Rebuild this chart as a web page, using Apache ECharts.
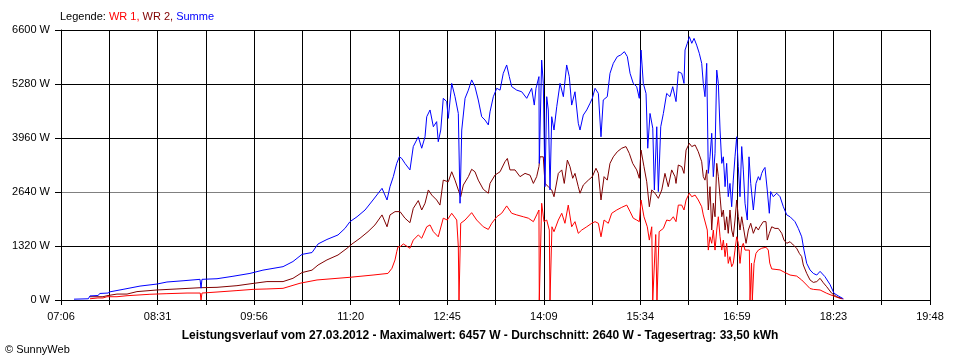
<!DOCTYPE html>
<html>
<head>
<meta charset="utf-8">
<script src="https://cdn.jsdelivr.net/npm/echarts@6/dist/echarts.min.js"></script>
<style>
  html, body { margin: 0; padding: 0; background: #fff; }
  #chart { width: 960px; height: 360px; }
</style>
</head>
<body>
<div id="chart"></div>
<script>
// Time in minutes since midnight, power in W
const startMinute = 426;   // 07:06
const endMinute = 1188;    // 19:48
const tickLabels = ["07:06","08:31","09:56","11:20","12:45","14:09","15:34","16:59","18:23","19:48"];
const yTicks = [0, 1320, 2640, 3960, 5280, 6600];

const summe = [
[437.4,20],[450,30],[451.4,100],[458.4,110],[460.2,160],[467.2,170],[469.0,200],[480.4,260],[495.3,340],
[510.2,390],[518.9,440],[533.0,470],[547.9,505],[548.8,290],[549.6,505],[562.8,520],[576.8,580],[591.7,650],
[603.1,730],[620.7,815],[629.4,940],[637.3,1115],[646.1,1160],[651.4,1370],[659.2,1480],[668.9,1590],
[675.0,1750],[679.4,1915],[685.6,2035],[692.6,2200],[699.6,2445],[707.5,2730],[709.2,2770],[711.9,2445],
[714.5,2770],[717.4,3015],[718.9,3180],[720.4,3340],[722.7,3500],[724.8,3460],[727.6,3340],[732.0,3180],
[734.9,3750],[739.3,3990],[742.3,3710],[745.2,3990],[746.7,4480],[749.6,4645],[752.5,4235],[755.4,4360],
[756.8,3870],[759.0,4155],[761.2,4930],[764.2,4850],[765.6,4440],[768.6,5295],[771.5,4970],[774.4,4560],
[775.9,2365],[777.4,4155],[780.3,4930],[783.2,5130],[786.1,5380],[789.0,5215],[791.9,4890],[794.9,4480],
[797.8,4400],[800.7,4280],[802.2,4600],[805.1,4970],[808.1,5175],[811.0,5130],[813.8,5540],[816.8,5745],
[819.1,5460],[821.2,5215],[825.6,5130],[830.0,5090],[834.4,4930],[838.7,5175],[841.0,4765],[842.5,5175],
[845.1,5460],[845.4,3340],[846.0,3340],[847.5,5865],[848.9,5295],[850.4,2770],[851.9,4970],[853.3,4645],
[854.8,2690],[856.3,4480],[858.3,4155],[860.7,4725],[863.6,5295],[866.5,4970],[869.4,5745],[871.7,5460],
[873.8,4765],[876.7,5090],[879.6,4320],[881.1,4155],[884.0,4520],[887.0,4645],[889.9,4810],[891.9,4930],
[894.3,5175],[897.2,5050],[899.5,3990],[901.5,4890],[905.0,4970],[907.4,5540],[910.3,5785],[913.8,5950],
[916.8,5990],[920.0,6070],[922.6,5950],[925.0,5540],[927.8,5295],[930.8,5215],[933.1,4930],[934.6,6110],
[936.6,5295],[939.0,5050],[940.5,3710],[942.5,4560],[944.9,4200],[946.3,2690],[948.4,4235],[949.8,2650],
[951.9,4235],[954.2,4560],[957.1,5050],[960.0,4970],[962.4,5215],[965.3,4850],[967.3,5580],[970.3,5540],
[972.3,5295],[973.2,6110],[975.2,6275],[977.0,6435],[979.1,6275],[981.1,6395],[983.4,6230],[985.7,6030],
[987.8,5785],[989.2,5295],[990.7,4970],[992.2,5785],[993.6,3095],[995.1,3500],[996.6,4075],[998.0,3015],
[999.5,3585],[1001.0,5620],[1002.4,5295],[1003.9,4155],[1005.4,3340],[1006.8,3500],[1008.3,2770],
[1009.7,3340],[1011.1,2525],[1012.6,2850],[1014.1,2280],[1015.5,2930],[1017.0,3500],[1018.5,3990],
[1019.9,3260],[1021.4,2525],[1022.9,3750],[1024.3,3180],[1025.8,2365],[1027.8,1955],[1029.3,3500],
[1030.8,2850],[1033.1,2200],[1035.4,2850],[1037.5,3015],[1038.9,2930],[1040.4,3095],[1041.8,3180],
[1043.3,3240],[1044.2,3260],[1045.3,2690],[1047.1,2120],[1048.3,2650],[1050.6,2525],[1053.6,2610],
[1056.5,2525],[1059.4,2280],[1062.4,2080],[1065.3,2035],[1069.6,1915],[1072.5,1750],[1075.5,1545],
[1077.5,1220],[1079.9,895],[1082.8,735],[1085.7,650],[1088.7,610],[1091.6,700],[1095.9,570],[1100.3,380],
[1103.8,165],[1107.6,100],[1112.0,30]
];

const wr2 = [
[451.4,80],[462.8,80],[466.3,105],[475.1,145],[483.9,145],[492.6,205],[510.2,245],[527.7,270],[547.9,300],
[562.8,310],[580.3,350],[594.4,405],[606.6,450],[620.7,450],[629.4,530],[637.3,670],[646.1,730],[651.4,855],
[659.2,980],[668.9,1100],[676.8,1265],[681.2,1370],[688.2,1510],[695.2,1670],[701.3,1835],[707.5,2080],
[711.9,1790],[714.5,2080],[718.9,2160],[723.3,2160],[727.6,2000],[732.0,1890],[734.9,2240],[739.3,2430],
[742.3,2200],[745.2,2365],[748.1,2690],[751.1,2565],[755.4,2445],[758.3,2320],[761.2,2930],[765.6,2890],
[768.6,3135],[771.5,2930],[774.4,2690],[776.5,2525],[778.8,2810],[783.2,3015],[786.1,3195],[789.0,3135],
[791.9,2930],[796.3,2705],[800.7,2610],[802.2,2850],[806.6,3055],[811.0,3135],[815.3,3380],[817.4,3460],
[819.7,3180],[824.1,3180],[828.5,3015],[832.9,3095],[837.3,3050],[840.2,2850],[843.1,3015],[845.1,3260],
[846.0,3500],[848.9,3500],[850.4,2850],[853.3,2770],[856.3,2690],[858.3,2525],[862.1,3095],[865.1,3180],
[867.3,2850],[870.0,3420],[872.3,3260],[874.7,2975],[876.7,3095],[879.6,2770],[881.1,2610],[884.0,2810],
[888.4,2930],[891.9,3015],[895.1,3220],[897.2,3095],[899.5,2445],[902.2,3015],[905.0,2930],[907.4,3340],
[910.3,3500],[913.8,3625],[917.7,3710],[921.4,3750],[924.3,3585],[927.3,3340],[930.8,3180],[933.1,2975],
[934.6,3665],[937.2,3260],[939.6,2890],[941.9,2280],[944.0,2690],[946.9,2610],[949.8,2485],[952.8,2690],
[955.6,3095],[958.5,2770],[961.5,3180],[964.4,3015],[965.3,2850],[967.3,3300],[970.3,3260],[972.3,3095],
[974.1,3665],[977.0,3830],[979.1,3750],[982.0,3790],[984.8,3625],[987.8,3380],[989.2,3015],[990.7,2930],
[992.2,3180],[993.6,2200],[995.1,2770],[996.6,1710],[998.0,2365],[999.5,2035],[1001.0,3340],[1002.4,3015],
[1003.9,2525],[1005.4,2035],[1006.8,2200],[1008.3,1710],[1009.7,2035],[1011.1,1630],[1012.6,2200],
[1014.1,1710],[1015.5,1545],[1017.0,1955],[1018.5,2445],[1019.9,2035],[1021.4,1710],[1022.9,2035],
[1024.3,1790],[1026.7,1385],[1028.7,1710],[1030.8,1875],[1033.1,1630],[1035.4,1790],[1037.5,1710],
[1038.9,1790],[1040.4,1835],[1041.8,1915],[1043.3,1940],[1044.2,1915],[1045.3,1465],[1047.1,1630],
[1049.2,1790],[1052.1,1750],[1055.0,1750],[1058.0,1630],[1060.0,1465],[1062.4,1385],[1065.3,1425],
[1068.1,1345],[1071.1,1265],[1073.4,1140],[1075.5,1060],[1076.9,855],[1079.9,650],[1082.8,490],
[1085.7,430],[1088.7,450],[1090.1,480],[1091.6,530],[1094.5,420],[1097.4,325],[1101.8,165],[1106.2,80],
[1110.6,40]
];

const wr1 = [
[451.4,30],[458.4,50],[462.8,50],[466.3,80],[475.1,80],[483.9,105],[504.0,140],[518.9,155],[536.5,170],
[548.1,170],[548.8,0],[549.6,170],[562.8,195],[580.3,230],[594.4,260],[606.6,270],[620.7,285],[635.6,410],
[650.5,490],[679.4,555],[699.6,610],[712.7,650],[716.2,775],[718.9,980],[720.4,1180],[721.5,1300],
[723.3,1300],[726.2,1370],[732.0,1265],[734.9,1465],[739.3,1590],[742.3,1510],[746.7,1790],[749.6,1835],
[752.5,1670],[756.8,1545],[761.2,2000],[764.7,1955],[768.6,2120],[773.0,1955],[774.4,1300],[775.0,0],
[775.6,0],[776.5,1875],[780.3,1955],[786.1,2135],[790.5,1955],[796.3,1790],[800.7,1725],[803.7,1875],
[808.1,2035],[812.4,2120],[816.8,2300],[821.2,2120],[825.6,2080],[831.4,2035],[835.8,2000],[840.2,1915],
[843.1,2080],[845.1,2200],[845.4,0],[846.6,0],[847.5,2365],[849.5,1915],[851.9,1955],[854.2,1710],
[854.8,0],[855.4,0],[856.5,1790],[858.3,1670],[862.1,1955],[865.1,2120],[867.9,1875],[870.8,2320],
[873.8,1790],[876.7,1915],[879.6,1630],[882.6,1710],[887.0,1790],[891.4,1875],[894.3,1915],[897.2,1875],
[899.5,1545],[902.2,1955],[905.9,1875],[908.9,2120],[913.3,2200],[917.7,2265],[922.1,2320],[925.0,2160],
[927.8,2000],[930.8,1955],[933.1,1915],[934.6,2445],[937.2,2035],[940.1,1790],[941.9,1465],[944.0,1790],
[944.9,0],[945.9,0],[947.5,1600],[948.6,0],[949.6,0],[950.5,1670],[951.3,1670],[954.2,1750],[957.1,1955],
[960.0,1935],[962.9,2035],[965.3,1915],[967.3,2320],[970.3,2320],[972.3,2200],[974.1,2445],[977.0,2610],
[979.1,2525],[982.0,2565],[984.8,2445],[987.8,2280],[989.2,2080],[990.7,2035],[992.7,1710],[993.6,1220],
[995.1,1545],[996.6,1385],[998.0,1710],[999.5,1220],[1001.0,1710],[1002.4,2035],[1003.9,1545],
[1005.4,1220],[1006.8,1465],[1008.3,1060],[1009.7,1385],[1011.1,895],[1012.6,1060],[1014.1,815],
[1015.5,895],[1017.0,1220],[1018.5,1545],[1019.9,1385],[1021.4,895],[1022.9,1300],[1024.3,1385],
[1025.8,1220],[1029.6,1220],[1030.2,0],[1030.8,0],[1031.5,900],[1032.2,0],[1033.1,0],[1033.7,895],
[1035.4,1140],[1037.5,1220],[1040.4,1265],[1044.2,1290],[1046.2,1220],[1047.5,900],[1049.2,760],
[1052.1,750],[1056.5,735],[1060.9,670],[1065.3,610],[1071.1,585],[1075.5,490],[1079.9,365],[1082.8,280],
[1085.7,260],[1091.6,245],[1097.4,165],[1103.2,100],[1109.1,40],[1112.0,25]
];

const span = endMinute - startMinute;       // 762 minutes
const gridStep = span / 18;                  // vertical grid every half label step
const labelStep = span / 9;
const toSeries = arr => arr.map(p => [p[0] - startMinute, p[1]]);
const FONT = '"Liberation Sans", Arial, sans-serif';

const chart = echarts.init(document.getElementById('chart'), null, { renderer: 'canvas' });
chart.setOption({
  animation: false,
  backgroundColor: '#ffffff',
  grid: { left: 61, right: 30, top: 30, bottom: 60, containLabel: false },
  graphic: [
    {
      type: 'text', left: 60, top: 11,
      style: {
        text: '{k|Legende: }{a|WR 1, }{b|WR 2, }{c|Summe}',
        rich: {
          k: { fill: '#000000', fontSize: 11, fontFamily: FONT },
          a: { fill: '#ff0000', fontSize: 11, fontFamily: FONT },
          b: { fill: '#800000', fontSize: 11, fontFamily: FONT },
          c: { fill: '#0000ff', fontSize: 11, fontFamily: FONT }
        }
      }
    },
    {
      type: 'text', left: 'center', top: 330,
      style: {
        text: 'Leistungsverlauf vom 27.03.2012 - Maximalwert: 6457 W - Durchschnitt: 2640 W - Tagesertrag: 33,50 kWh',
        fill: '#000000', fontSize: 12, fontWeight: 'bold', fontFamily: FONT
      }
    },
    {
      type: 'text', left: 5, top: 344,
      style: { text: '\u00A9 SunnyWeb', fill: '#000000', fontSize: 11, fontFamily: FONT }
    }
  ],
  xAxis: {
    type: 'value', min: 0, max: span, interval: gridStep,
    axisLine: { show: true, lineStyle: { color: '#000', width: 1 } },
    axisTick: { show: true, length: 5, lineStyle: { color: '#000' } },
    splitLine: { show: true, lineStyle: { color: '#000', width: 1 } },
    axisLabel: {
      show: true, margin: 11, color: '#000', fontSize: 11, fontFamily: FONT,
      showMinLabel: true, showMaxLabel: true, hideOverlap: false,
      formatter: function (v) {
        const k = v / labelStep;
        const r = Math.round(k);
        if (Math.abs(k - r) < 0.01 && r >= 0 && r < tickLabels.length) return tickLabels[r];
        return '';
      }
    }
  },
  yAxis: {
    type: 'value', min: 0, max: 6600, interval: 1320,
    axisLine: { show: true, lineStyle: { color: '#000', width: 1 } },
    axisTick: { show: true, length: 6, lineStyle: { color: '#000' } },
    splitLine: { show: true, lineStyle: { color: ['#000', '#000', '#808080', '#000', '#000', '#000'], width: 1 } },
    axisLabel: {
      margin: 11, color: '#000', fontSize: 11, fontFamily: FONT,
      formatter: v => (yTicks.indexOf(v) >= 0 ? v + ' W' : '')
    }
  },
  series: [
    { name: 'WR 1', type: 'line', data: toSeries(wr1), showSymbol: false, symbol: 'none',
      lineStyle: { color: '#ff0000', width: 1 }, itemStyle: { color: '#ff0000' } },
    { name: 'WR 2', type: 'line', data: toSeries(wr2), showSymbol: false, symbol: 'none',
      lineStyle: { color: '#800000', width: 1 }, itemStyle: { color: '#800000' } },
    { name: 'Summe', type: 'line', data: toSeries(summe), showSymbol: false, symbol: 'none',
      lineStyle: { color: '#0000ff', width: 1 }, itemStyle: { color: '#0000ff' } }
  ]
});
</script>
</body>
</html>
